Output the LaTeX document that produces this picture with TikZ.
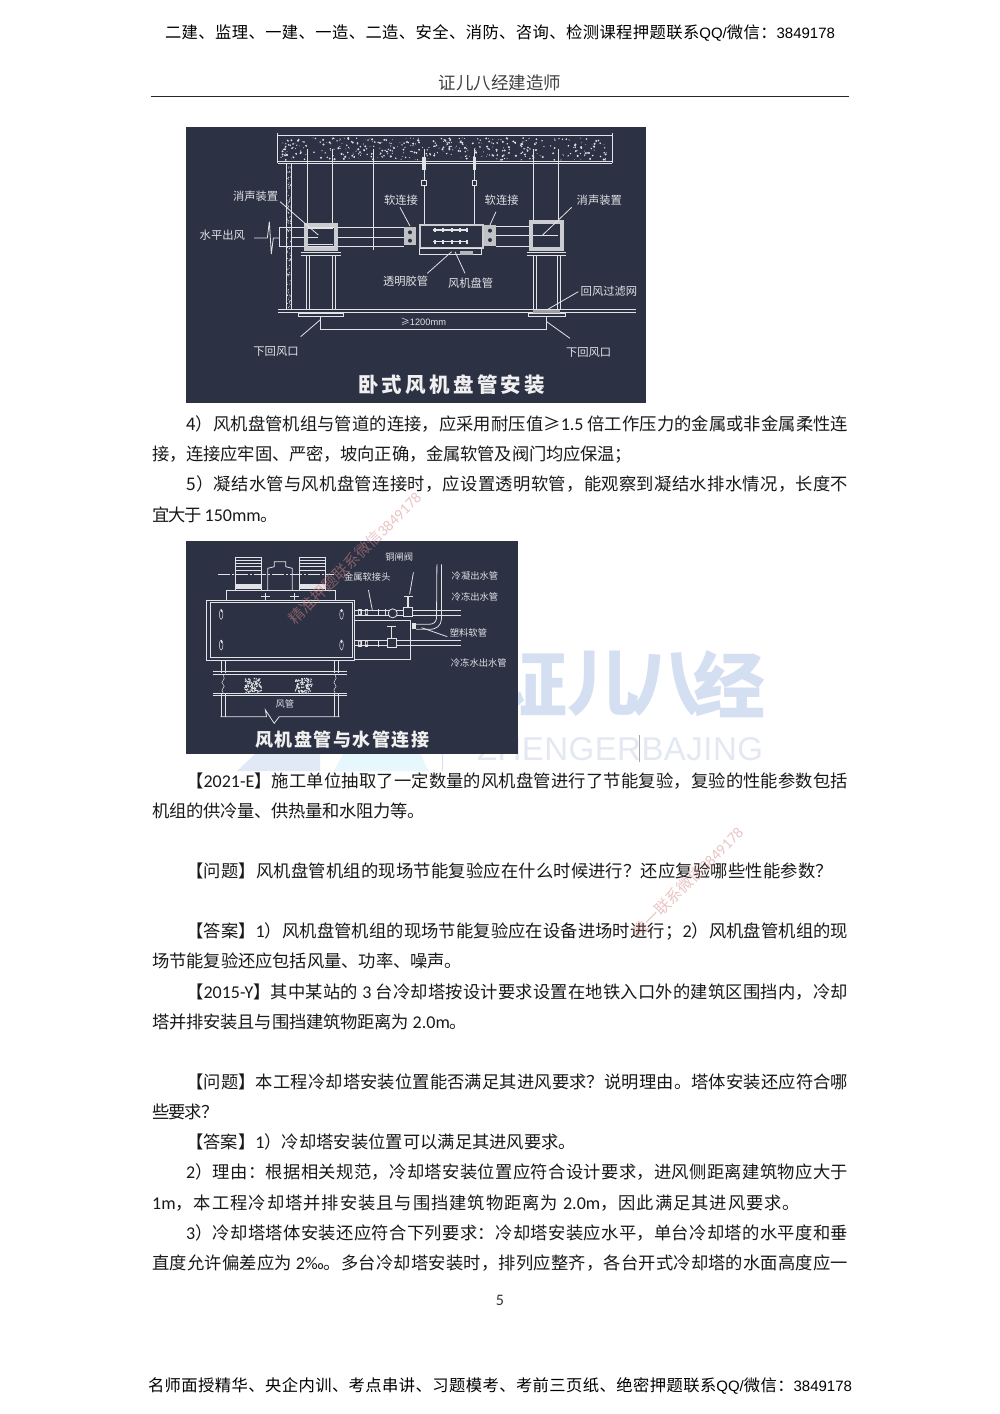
\documentclass[tikz,border=0pt]{standalone}
\usepackage{fontspec}
\setmainfont{Noto Sans CJK SC}
\newfontfamily\latf{Carlito}
\newfontfamily\hdf{Liberation Sans}
\newcommand\lat[1]{{\latf\fontsize{18}{18}\selectfont #1}}
\newcommand\hdl[1]{{\hdf\fontsize{15}{15}\selectfont #1}}
\XeTeXinterchartokenstate=1
\newcount\cjkcnt
\newcommand\setcjkrange[2]{\cjkcnt=#1 \loop \XeTeXcharclass\cjkcnt=1 \ifnum\cjkcnt<#2 \advance\cjkcnt 1 \repeat}
\setcjkrange{"4E00}{"9FFF}
\setcjkrange{"3000}{"303F}
\setcjkrange{"FF00}{"FFEF}
\XeTeXinterchartoks 1 1={\hskip 0pt plus 2pt minus 1pt}
\XeTeXinterchartoks 0 1={\hskip 0pt plus 2pt minus 1pt}
\XeTeXinterchartoks 1 0={\hskip 0pt plus 2pt minus 1pt}
\definecolor{panel}{HTML}{2C3144}
\definecolor{ink}{HTML}{E2E3E6}
\definecolor{logo}{HTML}{D5DFF2}
\definecolor{logob}{HTML}{E4E8F2}
\definecolor{stamp}{HTML}{D98A8A}
\tikzset{
 pagetext/.style={inner sep=0pt,anchor=base west,text=black!90,font=\fontsize{17.3}{17.3}\selectfont},
 headtext/.style={inner sep=0pt,anchor=base,text=black,font=\fontsize{16.3}{16.3}\selectfont},
 lbl/.style={inner sep=0pt,text=ink,font=\fontsize{11.3}{11.3}\selectfont},
 lbs/.style={inner sep=0pt,text=ink,font=\fontsize{9.3}{9.3}\selectfont},
 ttl/.style={inner sep=0pt,text=white!94!black,font=\bfseries\fontsize{20.5}{20.5}\selectfont},
 ln/.style={draw=ink,line width=0.8pt},
 thin/.style={draw=ink,line width=0.5pt},
 thick/.style={draw=ink!90!black,line width=2.4pt},
 logochar/.style={inner sep=0pt,text=logo,font=\bfseries\fontsize{72}{72}\selectfont},
 stamptext/.style={inner sep=0pt,text=stamp,opacity=0.5,rotate=45,font=\fontsize{15.5}{15.5}\selectfont},
}
\newcommand\pl[5]{\node[pagetext] (#1) at (#2,#4) {\makebox[#3pt][s]{#5}};}
\begin{document}
\begin{tikzpicture}[x=1pt,y=-1pt]
\useasboundingbox (0,0) rectangle (1000,1414);
\fill[white] (0,0) rectangle (1000,1414);
% logo watermark
\node[logochar] (wa) at (531,684) {证};
\node[logochar] (wb) at (603,684) {儿};
\node[logochar] (wc) at (666,684) {八};
\node[logochar] (wd) at (729,684) {经};
\node[inner sep=0pt,text=logob,font=\hdf\fontsize{33}{33}\selectfont] (we) at (620,749) {\makebox[286pt][s]{Z\hfill H\hfill E\hfill N\hfill G\hfill E\hfill R\hfill B\hfill A\hfill J\hfill I\hfill N\hfill G}};
\fill[logo!70!white] (237,771) -- (255,754) -- (320,754) -- (320,771) -- cycle;
\fill[cyan!10!white] (334,771) -- (343,754) -- (421,754) -- (428,771) -- cycle;
\draw[logo,line width=0.8pt] (442,754) -- (442,771);
\draw[black!35,line width=0.6pt] (639,735) -- (639,762);
% header
\node[headtext] (h1) at (500,38) {\makebox[670pt][s]{二建、监理、一建、一造、二造、安全、消防、咨询、检测课程押题联系\hdl{QQ/}微信：\hdl{3849178}}};
\node[inner sep=0pt,anchor=base,text=black!75,font=\fontsize{17.5}{17.5}\selectfont] (h2) at (500,89) {证儿八经建造师};
\draw[black!85,line width=1pt] (151,96.5) -- (848.5,96.5);
% body
\pl{b1}{186}{662}{430}{4）风机盘管机组与管道的连接，应采用耐压值≥\lat{1.5} 倍工作压力的金属或非金属柔性连}
\pl{b2}{152}{480}{460}{接，连接应牢固、严密，坡向正确，金属软管及阀门均应保温；}
\pl{b3}{186}{662}{490}{5）凝结水管与风机盘管连接时，应设置透明软管，能观察到凝结水排水情况，长度不}
\pl{b4}{152}{124}{521}{宜大于 \lat{150mm}。}
\pl{b5}{186}{662}{787}{【\lat{2021-E}】施工单位抽取了一定数量的风机盘管进行了节能复验，复验的性能参数包括}
\pl{b6}{152}{273}{817}{机组的供冷量、供热量和水阻力等。}
\pl{b7}{186}{647}{877}{【问题】风机盘管机组的现场节能复验应在什么时候进行？还应复验哪些性能参数？}
\pl{b8}{186}{662}{937}{【答案】\lat{1}）风机盘管机组的现场节能复验应在设备进场时进行；\lat{2}）风机盘管机组的现}
\pl{b9}{152}{310}{967}{场节能复验还应包括风量、功率、噪声。}
\pl{b10}{186}{662}{998}{【\lat{2015-Y}】其中某站的 \lat{3} 台冷却塔按设计要求设置在地铁入口外的建筑区围挡内，冷却}
\pl{b11}{152}{315}{1028}{塔并排安装且与围挡建筑物距离为 \lat{2.0m}。}
\pl{b12}{186}{662}{1088}{【问题】本工程冷却塔安装位置能否满足其进风要求？说明理由。塔体安装还应符合哪}
\pl{b13}{152}{62}{1118}{些要求？}
\pl{b14}{186}{390}{1148}{【答案】\lat{1}）冷却塔安装位置可以满足其进风要求。}
\pl{b15}{186}{662}{1178}{\lat{2}）理由：根据相关规范，冷却塔安装位置应符合设计要求，进风侧距离建筑物应大于}
\pl{b16}{152}{648}{1209}{\lat{1m}，本工程冷却塔并排安装且与围挡建筑物距离为 \lat{2.0m}，因此满足其进风要求。}
\pl{b17}{186}{662}{1239}{\lat{3}）冷却塔塔体安装还应符合下列要求：冷却塔安装应水平，单台冷却塔的水平度和垂}
\pl{b18}{152}{696}{1269}{直度允许偏差应为 \lat{2‰}。多台冷却塔安装时，排列应整齐，各台开式冷却塔的水面高度应一}
\node[inner sep=0pt,anchor=base,font=\latf\fontsize{16}{16}\selectfont,text=black!80] (pg) at (500,1305) {5};
\node[headtext] (f1) at (500,1391) {\makebox[704pt][s]{名师面授精华、央企内训、考点串讲、习题模考、考前三页纸、绝密押题联系\hdl{QQ/}微信：\hdl{3849178}}};
% ---- figure 1
\begin{scope}[shift={(180,120)},x=0.33333pt,y=-0.33333pt]
\fill[panel] (18,20) rectangle (1398,850);
% slab
\draw[ln] (293,40) -- (293,130) (1297,40) -- (1297,130);
\draw[ln] (293,46) -- (1297,46) (293,125) -- (1297,125);
\draw[ln,line width=1.1pt] (293,130) -- (1297,130);
\pgfmathsetseed{11}
\foreach \i in {1,...,420}{
 \pgfmathsetmacro\dx{302+rnd*985}
 \pgfmathsetmacro\dy{54+rnd*66}
 \pgfmathsetmacro\dr{0.3+rnd*0.9}
 \fill[ink] (\dx,\dy) circle (\dr pt);
}
% wall
\draw[ln] (318,130) -- (318,567) (335,130) -- (335,567);
\foreach \i in {1,...,110}{
 \pgfmathsetmacro\dx{320+rnd*13}
 \pgfmathsetmacro\dy{133+rnd*430}
 \fill[ink] (\dx,\dy) circle (0.55pt);
}
% hangers
\foreach \hx in {382,458,1060,1135}{ \draw[ln] (\hx,88) -- (\hx,310); }
\draw[ln] (580,88) -- (580,390);
\foreach \hx in {732,883}{
 \draw[ln] (\hx,88) -- (\hx,315);
 \fill[ink] (\hx-5,110) rectangle (\hx+5,150);
 \draw[ln,fill=panel] (\hx-7,180) rectangle (\hx+7,196);
}
% ducts
\draw[ln] (297,322) -- (672,322) (297,380) -- (672,380) (297,322) -- (297,380);
\draw[ln] (332,352) -- (415,352) (470,352) -- (672,352);
\draw[ln] (948,318) -- (1050,318) (948,378) -- (1050,378) (938,345) -- (1132,345);
% silencers
\draw[thick,line width=4pt] (378,314) rectangle (468,387);
\draw[ln] (385,325) -- (460,325) (385,372) -- (460,372);
\draw[thick,line width=4pt] (1053,307) rectangle (1145,387);
\draw[ln] (1065,345) -- (1135,345);
% flexible joints
\fill[ink!85!black] (672,320) rectangle (708,376);
\fill[panel] (690,337) circle (2pt) (690,362) circle (2pt);
\fill[ink!85!black] (912,315) rectangle (948,378);
\fill[panel] (930,332) circle (2pt) (930,360) circle (2pt);
% coil
\draw[thick,line width=1.8pt] (720,315) rectangle (908,385);
\draw[ln] (718,385) rectangle (905,402);
\fill[ink!80!black] (840,392) rectangle (880,404);
\draw[ln,line width=1.1pt] (760,330) -- (865,330) (760,365) -- (865,365);
\foreach \cx in {765,790,815,840,862}{
 \fill[ink] (\cx-3,325) rectangle (\cx+3,336);
 \fill[ink] (\cx-3,360) rectangle (\cx+3,371);
}
% flanges and legs
\draw[ln,line width=1pt] (362,397) -- (482,397) (362,405) -- (482,405) (1040,397) -- (1158,397) (1040,405) -- (1158,405);
\foreach \hx in {380,388,458,466,1060,1068,1133,1140}{ \draw[ln] (\hx,405) -- (\hx,567); }
% ceiling
\draw[ln,line width=1pt] (293,567) -- (1367,567) (293,578) -- (1367,578);
\draw[ln] (355,580) rectangle (490,590) (1045,580) rectangle (1155,590);
\fill[ink!70!black] (1060,570) rectangle (1140,578);
% dimension
\draw[ln] (422,590) -- (422,628) -- (1100,628) -- (1100,590);
\node[lbs] (d1) at (730,605) {≥\hdf 1200mm};
% leaders
\draw[ln] (300,245) -- (415,345);
\draw[ln] (1175,262) -- (1088,345);
\draw[ln] (660,262) -- (690,318);
\draw[ln] (948,275) -- (930,315);
\draw[ln] (815,395) -- (742,460);
\draw[ln] (825,395) -- (855,460);
\draw[ln] (1195,515) -- (1100,570);
\draw[ln] (420,600) -- (362,650);
\draw[ln] (1100,605) -- (1170,655);
\draw[ln] (222,354) -- (262,354) -- (268,305) -- (274,402) -- (280,354) -- (297,354);
% labels
\node[lbl] (l1) at (227,228) {消声装置};
\node[lbl] (l2) at (663,240) {软连接};
\node[lbl] (l3) at (965,240) {软连接};
\node[lbl] (l4) at (1258,240) {消声装置};
\node[lbl] (l5) at (127,345) {水平出风};
\node[lbl] (l6) at (677,485) {透明胶管};
\node[lbl] (l7) at (872,490) {风机盘管};
\node[lbl] (l8) at (1287,513) {回风过滤网};
\node[lbl] (l9) at (288,695) {下回风口};
\node[lbl] (l10) at (1226,697) {下回风口};
\node[ttl] (t1) at (815,795) {\makebox[187pt][s]{卧式风机盘管安装}};
\end{scope}
% ---- figure 2
\begin{scope}[shift={(180,535)},x=0.3846pt,y=-0.33333pt]
\fill[panel] (15,18) rectangle (878,658);
% motors
\foreach \mx in {145,310}{
 \draw[ln] (\mx,68) rectangle (\mx+67,165);
 \foreach \my in {75,85,95,105}{ \draw[thin] (\mx,\my) -- (\mx+67,\my); }
 \fill[ink] (\mx,148) rectangle (\mx+67,162);
}
\draw[ln] (228,165) -- (228,100) -- (245,95) -- (245,80) -- (275,80) -- (275,95) -- (292,100) -- (292,165);
\draw[thin,dash pattern=on 12pt off 2pt on 2pt off 2pt] (100,118) -- (400,118);
\draw[ln] (120,195) -- (120,165) -- (405,165) -- (405,195);
\foreach \cx in {222,297}{ \draw[ln] (\cx-12,185) -- (\cx+12,185) (\cx,175) -- (\cx,195); }
% main box
\draw[ln,line width=1pt] (70,195) rectangle (455,375);
\draw[ln] (78,203) rectangle (447,367);
\foreach \cx/\cy in {107/238,420/238,107/330,420/330}{
 \draw[thin] (\cx,\cy-14) -- (\cx,\cy-6);
 \draw[thin] (\cx,\cy) ellipse (1.8pt and 5pt);
}
% pipes
\draw[ln] (455,225) -- (730,225) (455,240) -- (730,240);
\draw[ln] (455,317) -- (730,317) (455,332) -- (730,332);
\draw[ln] (455,255) -- (600,255) -- (600,372) -- (455,372);
\foreach \px in {462,480}{
 \fill[ink] (\px,222) rectangle (\px+10,243);
 \fill[ink] (\px,314) rectangle (\px+10,335);
 \fill[panel] (\px+3,228) rectangle (\px+7,237) (\px+3,320) rectangle (\px+7,329);
}
\foreach \px in {515,535}{ \draw[ln] (\px,222) -- (\px,243); }
\draw[ln] (515,314) -- (515,335);
\draw[ln,fill=panel] (553,235) circle (4.5pt);
% valves
\draw[ln,fill=panel] (582,218) rectangle (604,245);
\draw[ln,line width=1.5pt] (593,185) -- (593,218);
\draw[ln,line width=1.5pt] (582,185) -- (605,185);
\draw[ln,fill=panel] (538,310) rectangle (562,337);
\draw[ln,line width=1.5pt] (550,275) -- (550,310);
\draw[ln,line width=1.5pt] (539,275) -- (562,275);
% drain
\fill[ink] (602,265) rectangle (614,282);
\draw[ln] (614,268) -- (645,268) .. controls (660,268) and (665,262) .. (667,250) -- (668,88);
\draw[ln] (614,283) -- (648,283) .. controls (668,283) and (678,272) .. (680,252) -- (680,88);
% leaders
\draw[ln] (490,165) -- (500,225);
\draw[ln] (607,112) -- (597,178);
\draw[ln] (628,278) -- (695,305);
% lower part
\foreach \lx in {108,118,402,412}{ \draw[ln] (\lx,375) -- (\lx,413); \draw[ln] (\lx,478) -- (\lx,545); }
\draw[ln,line width=1pt] (85,410) -- (435,410) (85,418) -- (435,418);
\draw[ln,line width=1pt] (85,474) -- (435,474) (85,482) -- (435,482);
\foreach \lx in {112,403}{
 \draw[thin] (\lx,418) -- (\lx+3,430) -- (\lx-3,442) -- (\lx+3,454) -- (\lx-3,465) -- (\lx,474);
}
\pgfmathsetseed{5}
\foreach \bx in {190,322}{
 \foreach \i in {1,...,90}{
  \pgfmathsetmacro\dx{\bx-22+rnd*44}
  \pgfmathsetmacro\dy{430+rnd*42}
  \fill[ink] (\dx,\dy) circle (0.8pt);
 }
}
\draw[ln] (105,545) -- (225,545) -- (222,525) -- (245,565) -- (258,545) -- (415,545);
% labels
\node[lbs] (m1) at (570,65) {铜闸阀};
\node[lbs] (m2) at (487,127) {金属软接头};
\node[lbs] (m3) at (767,122) {冷凝出水管};
\node[lbs] (m4) at (767,187) {冷冻出水管};
\node[lbs] (m5) at (750,295) {塑料软管};
\node[lbs] (m6) at (777,384) {冷冻水出水管};
\node[lbs] (m7) at (273,508) {风管};
\node[ttl,font=\bfseries\fontsize{18}{18}\selectfont] (t2) at (422,615) {\makebox[174pt][s]{风机盘管与水管连接}};
\end{scope}
% stamps
\node[stamptext] (s1) at (355,558) {精准押题联系微信\latf 3849178};
\node[stamptext] (s2) at (688,882) {唯一联系微信\latf 3849178};
\end{tikzpicture}
\end{document}
